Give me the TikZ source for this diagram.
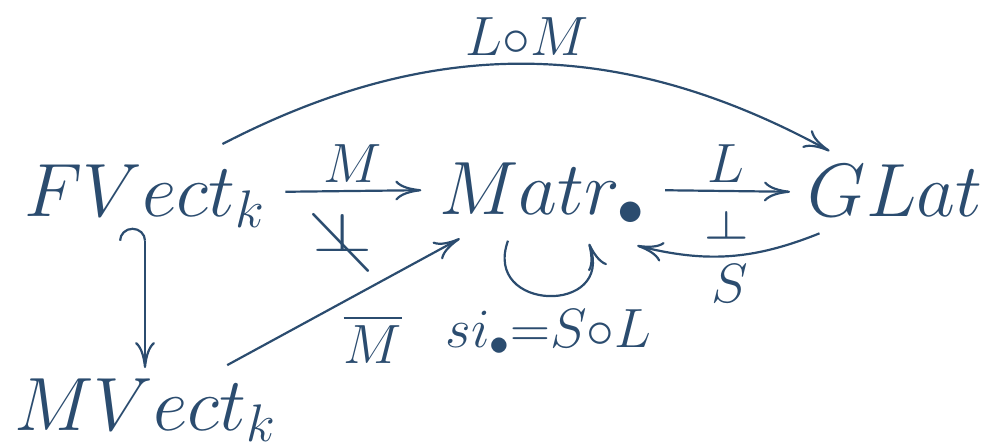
\documentclass[tikz,border=0pt]{standalone}
\usepackage{fix-cm}
\usepackage{amssymb}
\usepackage{graphicx}
\usetikzlibrary{arrows.meta}
\definecolor{ink}{RGB}{43,76,111}

\begin{document}
\begin{tikzpicture}[
      x=0.2mm, y=-0.2mm, color=ink,
      obj/.style={
        inner sep=0pt, anchor=base,
        font=\fontsize{43}{50}\selectfont
      },
      lbl/.style={font=\fontsize{45}{52}\selectfont, inner sep=1.5mm},
      arr/.style={
        line width=1.25pt,
        -{Computer Modern Rightarrow[length=5.2mm, width=4mm]}
      },
      gap/.style={shorten <=4mm, shorten >=3.5mm},
      hk/.style={
        arr, shorten >=2mm,
        {Hooks[arc=180, left, length=2.6mm, width=10.4mm]}-{Computer Modern Rightarrow[length=5.2mm, width=4mm]}
      }
    ]
    \useasboundingbox (0,0) rectangle (988,448);

    % Objects: top row on one baseline, MVect below.
    \node[obj] (fv) at (145,216) {$FVect_k$};
    \node[obj] (mt) at (542,214) {$Matr_\bullet$};
    \node[obj] (gl) at (895,216) {$GLat$};
    \node[obj] (mv) at (145,430) {$MVect_k$};

    % Row arrows.
    \draw[arr, gap] ([yshift=4.8mm]fv.base east) --
      node[lbl, above] {$\scriptstyle M$}
      node[lbl, below, pos=.44, inner sep=3.6mm]
        {\rlap{\scalebox{1.4}[1]{$\scriptstyle\perp$}}\raisebox{-1.5mm}{\scalebox{1.2}{$\scriptstyle\diagdown$}}}
      ([yshift=4.8mm]mt.base west);
    \draw[arr, gap] ([yshift=4.8mm]mt.base east) --
      node[lbl, above] {$\scriptstyle L$}
      node[lbl, rotate=-90, anchor=west, inner sep=3.2mm] {$\scriptstyle\dashv$}
      ([yshift=4.8mm]gl.base west);
    \draw[arr] ([shift={(12,17)}]gl.south west) to[bend left=18]
      node[lbl, below] {$\scriptstyle S$}
      ([shift={(-8,20)}]mt.south east);

    % Composite over the top.
    \draw[arr] ([shift={(-43,-20)}]fv.north east) to[bend left=28]
      node[lbl, above] {$\scriptstyle L\circ M$}
      ([shift={(22,-13)}]gl.north west);

    % Loop on Matr.
    \draw[arr] ([shift={(-34,15)}]mt.south) to[out=-110, in=-70, looseness=2.4]
      node[lbl, below, inner sep=2.5mm] {$\scriptstyle si_\bullet=S\circ L$}
      ([shift={(47,18)}]mt.south);

    % Inclusion and the extension.
    \draw[hk] (fv.south) -- (mv.north);
    \draw[arr, shorten <=5.4mm, shorten >=5.4mm] (mv) --
      node[lbl, pos=.47, below right] {$\scriptstyle\overline{M}$} (mt);
  \end{tikzpicture}
\end{document}
